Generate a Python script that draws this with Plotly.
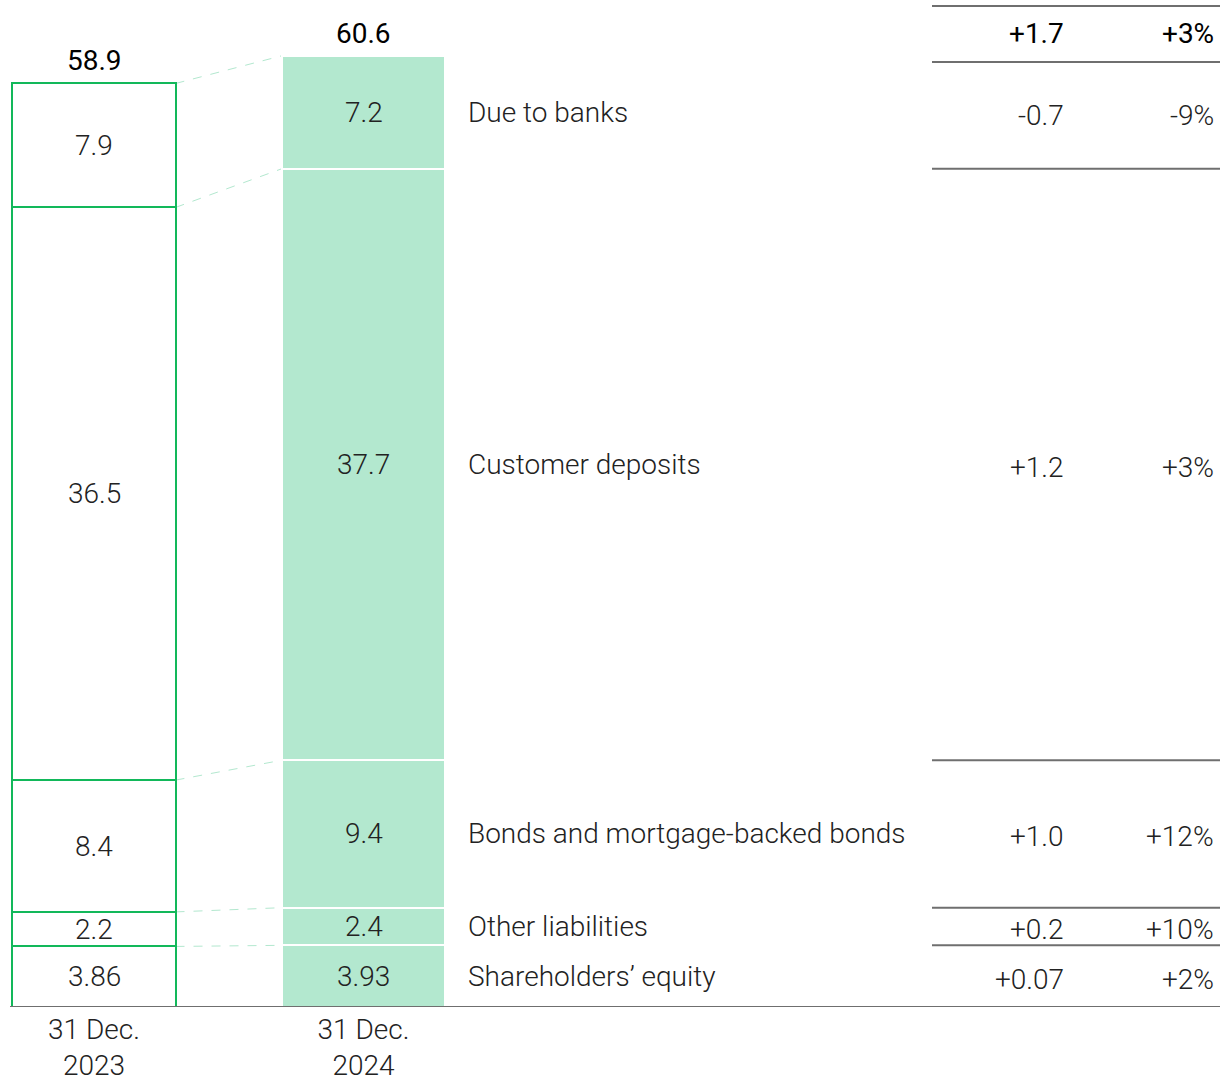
import plotly.graph_objects as go

# ---------------- data ----------------
periods = ["31 Dec.<br>2023", "31 Dec.<br>2024"]
categories = ["Shareholders’ equity", "Other liabilities", "Bonds and mortgage-backed bonds",
              "Customer deposits", "Due to banks"]
values_2023 = [3.86, 2.2, 8.4, 36.5, 7.9]
values_2024 = [3.93, 2.4, 9.4, 37.7, 7.2]
change_abs = ["+0.07", "+0.2", "+1.0", "+1.2", "-0.7"]
change_pct = ["+2%", "+10%", "+12%", "+3%", "-9%"]
total_change_abs = "+1.7"
total_change_pct = "+3%"

# ---------------- style ----------------
GREEN = "#12b85a"
FILL = "#b3e8cf"
TEXT = "#222222"
GRID = "#6f6f6f"
FONT = "Roboto"
FS = 28
W, H = 1220, 1081
PLOT_H = 1007
PX_PER_UNIT = 15.69
YMAX = PLOT_H / PX_PER_UNIT
X0_CENTER, X_STEP = 94, 269.5
BAR_W = 0.605
LIGHT = dict(family=FONT, size=FS, color=TEXT, weight=300)
REG = dict(family=FONT, size=FS, color="black")

fig = go.Figure()
for i, cat in enumerate(categories):
    fig.add_trace(go.Bar(
        x=periods, y=[values_2023[i], values_2024[i]], name=cat,
        width=BAR_W,
        marker=dict(color=["white", FILL],
                    line=dict(color=[GREEN, "white"], width=2)),
        hoverinfo="skip", showlegend=False,
    ))

def fmt(v):
    return f"{v:g}"

annotations = []
shapes = []
cum23 = [0]
cum24 = [0]
for a, b in zip(values_2023, values_2024):
    cum23.append(cum23[-1] + a)
    cum24.append(cum24[-1] + b)

for i in range(len(categories)):
    mid23 = (cum23[i] + cum23[i + 1]) / 2
    mid24 = (cum24[i] + cum24[i + 1]) / 2
    annotations.append(dict(x=0, y=mid23, xref="x", yref="y", text=fmt(values_2023[i]),
                            yanchor="middle", showarrow=False, font=LIGHT))
    annotations.append(dict(x=1, y=mid24, xref="x", yref="y", text=fmt(values_2024[i]),
                            yanchor="middle", showarrow=False, font=LIGHT))
    annotations.append(dict(x=466 / W, y=mid24, xref="paper", yref="y", text=categories[i],
                            xanchor="left", yanchor="middle", showarrow=False, font=LIGHT))
    annotations.append(dict(x=1066 / W, y=mid24, xref="paper", yref="y", text=change_abs[i],
                            xanchor="right", yanchor="middle", yshift=-3, showarrow=False,
                            font=LIGHT))
    annotations.append(dict(x=1216 / W, y=mid24, xref="paper", yref="y", text=change_pct[i],
                            xanchor="right", yanchor="middle", yshift=-3, showarrow=False,
                            font=LIGHT))

# totals
for xi, tot in ((0, cum23[-1]), (1, cum24[-1])):
    annotations.append(dict(x=xi, y=tot, xref="x", yref="y", text=f"{tot:.1f}",
                            yanchor="bottom", yshift=4, showarrow=False, font=REG))
header_y = 1 - 34 / PLOT_H
annotations.append(dict(x=1066 / W, y=header_y, xref="paper", yref="paper", text=total_change_abs,
                        xanchor="right", yanchor="middle", showarrow=False, font=REG))
annotations.append(dict(x=1216 / W, y=header_y, xref="paper", yref="paper", text=total_change_pct,
                        xanchor="right", yanchor="middle", showarrow=False, font=REG))

# connectors between stacks
for k in range(1, len(cum23)):
    shapes.append(dict(type="line", xref="x", yref="y",
                       x0=0 + BAR_W / 2, y0=cum23[k], x1=1 - BAR_W / 2, y1=cum24[k],
                       line=dict(color=FILL, width=1, dash="dash"), layer="below"))

# table rules
TX0 = 932 / W
for py in (6, 62):
    yy = 1 - py / PLOT_H
    shapes.append(dict(type="line", xref="paper", yref="paper", x0=TX0, x1=1, y0=yy, y1=yy,
                       line=dict(color=GRID, width=2)))
for k in range(1, len(cum24) - 1):
    shapes.append(dict(type="line", xref="paper", yref="y", x0=TX0, x1=1,
                       y0=cum24[k], y1=cum24[k], line=dict(color=GRID, width=2)))
# baseline
shapes.append(dict(type="line", xref="paper", yref="y", x0=10 / W, x1=1, y0=0, y1=0,
                   line=dict(color=GRID, width=2)))

fig.update_layout(
    width=W, height=H,
    margin=dict(l=0, r=0, t=0, b=H - PLOT_H, autoexpand=False),
    barmode="stack", bargap=0,
    plot_bgcolor="white", paper_bgcolor="white",
    annotations=annotations, shapes=shapes,
    xaxis=dict(range=[-X0_CENTER / X_STEP, (W - X0_CENTER) / X_STEP],
               showgrid=False, zeroline=False, showline=False, ticks="",
               automargin=False, fixedrange=True,
               tickfont=LIGHT, ticklabelstandoff=3),
    yaxis=dict(range=[0, YMAX], visible=False, showgrid=False, zeroline=False,
               automargin=False, fixedrange=True),
)

fig.write_html("out.html", config={"displayModeBar": False},
               post_script="document.body.style.margin='0px';document.body.style.overflow='hidden';")
